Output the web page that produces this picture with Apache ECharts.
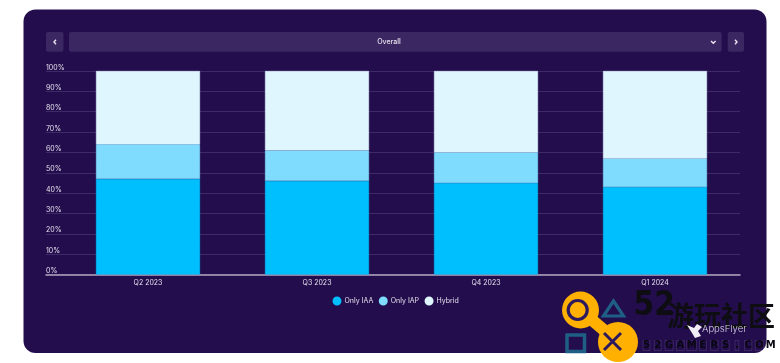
<!DOCTYPE html>
<html><head><meta charset="utf-8">
<style>html,body{margin:0;padding:0;background:#fff}#c{width:780px;height:363px}</style>
<script src="https://cdn.jsdelivr.net/npm/echarts@6/dist/echarts.min.js"></script>
</head><body><div id="c"></div>
<script>
const categories = ['Q2 2023','Q3 2023','Q4 2023','Q1 2024'];
const onlyIAA = [47, 46, 45, 43];
const onlyIAP = [17, 15, 15, 14];
const hybrid  = [36, 39, 40, 43];
const FONT = 'Inter, "Noto Sans", sans-serif';
const chart = echarts.init(document.getElementById('c'), null, {renderer:'canvas'});
const stackSeries = (name, data, color) => ({
  name, type:'bar', stack:'all', data, xAxisIndex:1, yAxisIndex:1, barWidth:104,
  itemStyle:{color, borderColor:color, borderWidth:0.6}, emphasis:{disabled:true}, z:3
});
const rrect = (x,y,w,h,r,fill) => ({type:'rect',z:-5,zlevel:-1,shape:{x,y,width:w,height:h,r},style:{fill},silent:true});
const chev = (points) => ({type:'polyline',shape:{points},style:{stroke:'#ece6f2',lineWidth:1.4,fill:null},silent:true,z:2});
const txt = (x,y,text,size,fill,extra) => ({type:'text',x,y,style:Object.assign({text,fontSize:size,fill,fontFamily:FONT,align:'left',verticalAlign:'middle'},extra||{}),silent:true,z:40});
const wm = ['5','2','G','A','M','E','R','S','.','C','O','M'];
chart.setOption({
  animation:false,
  backgroundColor:'#ffffff',
  grid:[
    {left:46,right:40,top:71,bottom:88.5},
    {left:63.5,right:40.5,top:71,bottom:88.5}
  ],
  xAxis:[
    {gridIndex:0,type:'value',min:0,max:1,axisLine:{show:true,onZero:false,lineStyle:{color:'#b3a6c0',width:1.5}},axisTick:{show:false},axisLabel:{show:false},splitLine:{show:false}},
    {gridIndex:1,type:'category',data:categories,axisLine:{show:false},axisTick:{show:false},
     axisLabel:{color:'#e6e0ee',fontSize:7,fontFamily:FONT,margin:5}}
  ],
  yAxis:[
    {gridIndex:0,type:'value',min:0,max:100,interval:10,
     axisLine:{show:false},axisTick:{show:false},
     axisLabel:{inside:true,margin:0,color:'#e6e0ee',fontSize:7,fontFamily:FONT,formatter:'{value}%',verticalAlign:'bottom',padding:[0,0,0,0]},
     splitLine:{show:true,lineStyle:{color:'#3d2a66',width:1}}},
    {gridIndex:1,type:'value',min:0,max:100,show:false}
  ],
  legend:{
    data:['Only IAA','Only IAP','Hybrid'],bottom:52.5,left:327.5,itemWidth:7,itemHeight:7,icon:'circle',itemGap:5.5,
    textStyle:{color:'#e6e0ee',fontSize:7,fontFamily:FONT,padding:[0,0,0,-1]},selectedMode:false
  },
  series:[
    stackSeries('Only IAA',onlyIAA,'#00bfff'),
    stackSeries('Only IAP',onlyIAP,'#80dcff'),
    stackSeries('Hybrid',hybrid,'#dff6ff')
  ],
  graphic:{elements:[
    rrect(23.5,9.5,743,343.5,12,'#230d4d'),
    rrect(46,32,17.5,19.7,2,'#3b2762'),
    rrect(69,32,652.7,19.7,2,'#3b2762'),
    rrect(727.7,32,16.3,19.7,2,'#3b2762'),
    chev([[56,39.8],[54,42],[56,44.2]]),
    chev([[735,39.8],[737,42],[735,44.2]]),
    chev([[711,41],[713.3,43.2],[715.6,41]]),
    txt(389,42,'Overall',7,'#e6e0ee',{align:'center',fontWeight:500}),
    /* 52GAMERS watermark */
    {type:'circle',shape:{cx:580.5,cy:310,r:18.5},style:{fill:'#ffb000'},silent:true,z:30},
    {type:'circle',shape:{cx:618,cy:342,r:20},style:{fill:'#ffb000'},silent:true,z:30},
    {type:'line',shape:{x1:585,y1:314,x2:612,y2:337},style:{stroke:'#ffb000',lineWidth:12},silent:true,z:30},
    {type:'circle',shape:{cx:577.7,cy:310,r:9.5},style:{fill:'none',stroke:'#2d1a5e',lineWidth:3.2},silent:true,z:31},
    {type:'polygon',shape:{points:[[613.5,301],[623.5,316],[603.5,316]]},style:{fill:'none',stroke:'#1f5f86',lineWidth:3.2},silent:true,z:31},
    {type:'rect',shape:{x:567,y:335,width:17.5,height:16.5},style:{fill:'none',stroke:'#1f5f86',lineWidth:3.5},silent:true,z:31},
    {type:'line',shape:{x1:604,y1:333,x2:621,y2:350},style:{stroke:'#2d1a5e',lineWidth:3},silent:true,z:31},
    {type:'line',shape:{x1:621,y1:333,x2:604,y2:350},style:{stroke:'#2d1a5e',lineWidth:3},silent:true,z:31},
    txt(633.5,306,'52',33,'#0d0d12',{fontWeight:'bold',fontFamily:'"Liberation Sans Narrow","DejaVu Sans Condensed",sans-serif'}),
    txt(667,316,'游玩社区',27,'#0d0d12',{fontFamily:'"Noto Sans CJK SC"',fontWeight:'bold'}),
    /* AppsFlyer mark */
    Object.assign(txt(702,329,'AppsFlyer',9.5,'#d9d3e2',{fontWeight:300}),{z:45}),
    {type:'polygon',shape:{points:[[687,325],[694,328],[697,324],[702,327],[698,331],[701,336],[695,338],[692,333]]},style:{fill:'#f1edf5'},silent:true,z:45}
  ].concat(wm.map((c,i)=>txt(646.5+i*11.3,345.5,c,10,'#0a0812',{align:'center',fontWeight:'bold',fontFamily:'"DejaVu Sans"',textBorderColor:'rgba(255,255,255,0.18)',textBorderWidth:0.6})))}
});
</script></body></html>
